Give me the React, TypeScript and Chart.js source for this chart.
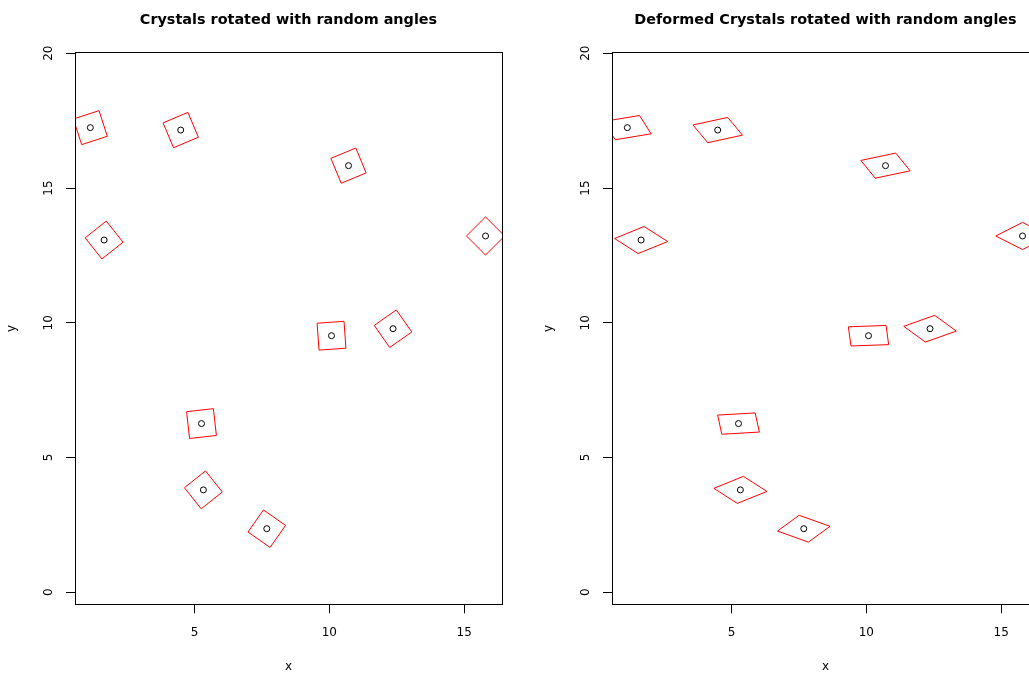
import React, { useEffect, useRef } from "react";
import { Chart, registerables } from "chart.js";

Chart.register(...registerables);

// ---- data ----
const crystalX = [1.14, 4.49, 10.71, 1.65, 15.79, 10.08, 12.36, 5.26, 5.33, 7.68];
const crystalY = [17.24, 17.15, 15.83, 13.07, 13.22, 9.52, 9.78, 6.26, 3.8, 2.36];
const crystalAngleDeg = [18, 23, 22.5, 38.5, 45, 4, 35, 6.4, 38.5, 55];
const crystalSide = 1;
const panelDeformX = [1, 1.4];
const panelDeformY = [1, 0.714];
const panelTitles = [
  "Crystals rotated with random angles",
  "Deformed Crystals rotated with random angles",
];
const xTicks = [5, 10, 15];
const yTicks = [0, 5, 10, 15, 20];
const xLimits = [0.571, 16.4];
const yLimits = [-0.445, 20.02];
const xLabel = "x";
const yLabel = "y";

const FONT = "'DejaVu Sans', 'Liberation Sans', Arial, sans-serif";

function crystalCorners(i: number, sx: number, sy: number) {
  const cx = crystalX[i];
  const cy = crystalY[i];
  const th = (crystalAngleDeg[i] * Math.PI) / 180;
  const r = crystalSide / Math.SQRT2;
  const pts: { x: number; y: number }[] = [];
  for (let k = 0; k <= 4; k++) {
    const a = th + Math.PI / 4 + (k * Math.PI) / 2;
    pts.push({ x: cx + r * Math.cos(a) * sx, y: cy + r * Math.sin(a) * sy });
  }
  return pts;
}

const boxPlugin = {
  id: "rbox",
  afterDraw(chart: any) {
    const { ctx, chartArea: a } = chart;
    ctx.save();
    ctx.strokeStyle = "#000";
    ctx.lineWidth = 1;
    const l = Math.round(a.left) + 0.5;
    const t = Math.floor(a.top) + 0.5;
    const r = Math.round(a.right) + 0.5;
    const b = Math.round(a.bottom) + 0.5;
    ctx.strokeRect(l, t, r - l, b - t);
    ctx.restore();
  },
};

function makeConfig(panel: number): any {
  const sx = panelDeformX[panel];
  const sy = panelDeformY[panel];
  const polys = crystalX.map((_, i) => ({
    data: crystalCorners(i, sx, sy),
    showLine: true,
    borderColor: "#ff0000",
    borderWidth: 1,
    pointRadius: 0,
    pointHoverRadius: 0,
    fill: false,
    tension: 0,
    clip: 0,
  }));
  const centers = {
    data: crystalX.map((x, i) => ({ x, y: crystalY[i] })),
    showLine: false,
    pointStyle: "circle",
    pointRadius: 3,
    pointBorderWidth: 1,
    pointBorderColor: "#000",
    pointBackgroundColor: "rgba(0,0,0,0)",
    clip: 0,
  };
  return {
    type: "scatter",
    data: { datasets: [centers, ...polys] },
    plugins: [boxPlugin],
    options: {
      responsive: false,
      animation: false,
      devicePixelRatio: 1,
      events: [],
      layout: { padding: { top: 0, right: 35, bottom: 0, left: 0 } },
      plugins: {
        legend: { display: false },
        tooltip: { enabled: false },
        title: {
          display: true,
          text: panelTitles[panel],
          color: "#000",
          fullSize: false,
          font: { family: FONT, size: 14.4, weight: "bold", lineHeight: 1.2 },
          padding: { top: 11.36, bottom: 24.06 },
        },
      },
      scales: {
        x: {
          type: "linear",
          position: "bottom",
          min: xLimits[0],
          max: xLimits[1],
          bounds: "data",
          afterBuildTicks: (s: any) => {
            s.ticks = xTicks.map((v) => ({ value: v }));
          },
          afterFit: (s: any) => {
            s.height = 72.7;
          },
          grid: {
            display: true,
            drawOnChartArea: false,
            drawTicks: true,
            tickLength: 9,
            color: "#000",
            lineWidth: 1,
          },
          border: { display: false },
          ticks: {
            color: "#000",
            font: { family: FONT, size: 12, lineHeight: 1.2 },
            padding: 11.9,
            minRotation: 0,
            maxRotation: 0,
            autoSkip: false,
          },
          title: {
            display: true,
            text: xLabel,
            color: "#000",
            font: { family: FONT, size: 12, lineHeight: 1.2 },
            padding: { top: 0, bottom: 2.65 },
          },
        },
        y: {
          type: "linear",
          position: "left",
          min: yLimits[0],
          max: yLimits[1],
          bounds: "data",
          afterBuildTicks: (s: any) => {
            s.ticks = yTicks.map((v) => ({ value: v }));
          },
          afterFit: (s: any) => {
            s.width = 75;
          },
          grid: {
            display: true,
            drawOnChartArea: false,
            drawTicks: true,
            tickLength: 9,
            color: "#000",
            lineWidth: 1,
          },
          border: { display: false },
          ticks: {
            color: "#000",
            font: { family: FONT, size: 12, lineHeight: 1.2 },
            padding: 9.2,
            minRotation: 90,
            maxRotation: 90,
            crossAlign: "center",
            autoSkip: false,
          },
          title: {
            display: true,
            text: yLabel,
            color: "#000",
            font: { family: FONT, size: 12, lineHeight: 1.2 },
            padding: { top: 4.7, bottom: 0 },
          },
        },
      },
    },
  };
}

export default function App() {
  const leftRef = useRef<HTMLCanvasElement>(null);
  const rightRef = useRef<HTMLCanvasElement>(null);
  useEffect(() => {
    document.body.style.margin = "0";
    const canvases = [leftRef.current, rightRef.current];
    const charts = canvases.map((c, i) => new Chart(c as HTMLCanvasElement, makeConfig(i)));
    return () => charts.forEach((ch) => ch.destroy());
  }, []);
  return (
    <div
      style={{
        position: "relative",
        width: 1029,
        height: 677,
        overflow: "hidden",
        background: "#fff",
      }}
    >
      <canvas
        ref={leftRef}
        width={537}
        height={677}
        style={{ position: "absolute", left: 0, top: 0, width: 537, height: 677 }}
      />
      <canvas
        ref={rightRef}
        width={537}
        height={677}
        style={{ position: "absolute", left: 537, top: 0, width: 537, height: 677 }}
      />
    </div>
  );
}
